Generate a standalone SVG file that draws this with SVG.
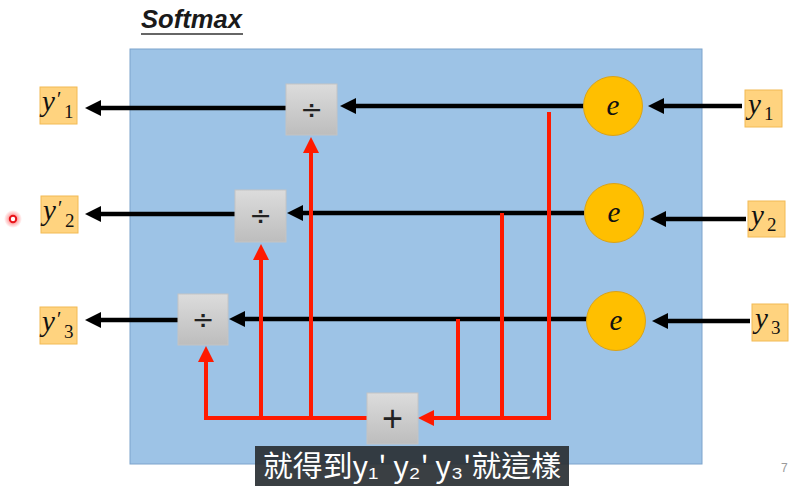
<svg xmlns="http://www.w3.org/2000/svg" width="793" height="498" viewBox="0 0 793 498">
<defs>
<linearGradient id="gbox" x1="0" y1="0" x2="0" y2="1">
<stop offset="0" stop-color="#DCDCDC"/>
<stop offset="1" stop-color="#BDBDBD"/>
</linearGradient>
<radialGradient id="glow">
<stop offset="0.3" stop-color="#FF4040" stop-opacity="0.6"/>
<stop offset="1" stop-color="#FF4040" stop-opacity="0"/>
</radialGradient>
<marker id="ab" markerUnits="userSpaceOnUse" markerWidth="18" markerHeight="16" refX="4" refY="8" orient="auto">
<path d="M0,0 L16,8 L0,16 z" fill="#000"/>
</marker>
<marker id="ar" markerUnits="userSpaceOnUse" markerWidth="18" markerHeight="16" refX="4" refY="8" orient="auto">
<path d="M0,0 L16,8 L0,16 z" fill="#FF1A00"/>
</marker>
</defs>
<style>
.lbl{fill:#FFD37F;stroke:#F2BA55;stroke-width:1}
.box{fill:url(#gbox);stroke:#C4C4C4;stroke-width:1}
.circ{fill:#FFBF00;stroke:#D9A21A;stroke-width:1}
.m{font-family:"Liberation Serif","DejaVu Serif",serif;fill:#111}
.mi{font-style:italic}
.op{font-family:"Liberation Sans","DejaVu Sans",sans-serif;fill:#222;text-anchor:middle}
.dv{font-family:"DejaVu Sans","Liberation Sans",sans-serif;fill:#222;text-anchor:middle}
.bl{fill:none;stroke:#000;stroke-width:4.5;marker-end:url(#ab)}
.rd{fill:none;stroke:#FF1A00;stroke-width:4}
.rda{fill:none;stroke:#FF1A00;stroke-width:4;marker-end:url(#ar)}
</style>
<rect width="793" height="498" fill="#fff"/>
<g id="title">
<text x="141" y="28" font-family="'Liberation Sans',Arial,sans-serif" font-weight="bold" font-style="italic" font-size="25" fill="#1a1a1a" textLength="101" lengthAdjust="spacingAndGlyphs">Softmax</text>
<line x1="141" y1="34" x2="243" y2="34" stroke="#333" stroke-width="1.5"/>
</g>
<g id="softmax-block">
<rect x="130" y="49" width="572" height="415" fill="#9DC3E6" stroke="#7DA3CC" stroke-width="1"/>
</g>
<g id="connectors">
<path class="bl" d="M742,106 H660"/>
<path class="bl" d="M746,219 H662"/>
<path class="bl" d="M750,321 H664"/>
<path class="bl" d="M584,106 H352"/>
<path class="bl" d="M584,213 H299"/>
<path class="bl" d="M587,319 H241"/>
<path class="bl" d="M286,108 H97"/>
<path class="bl" d="M235,214 H97"/>
<path class="bl" d="M178,320 H97"/>
<path class="rda" d="M549,112 V418 H430"/>
<path class="rd" d="M502,213 V418"/>
<path class="rd" d="M458,319 V418"/>
<path class="rda" d="M367,418 H206 V358"/>
<path class="rda" d="M261,418 V256"/>
<path class="rda" d="M311,418 V149"/>
</g>
<g id="exp1"><circle class="circ" cx="613" cy="106" r="29.5"/><text class="m mi" x="613" y="115" font-size="29" text-anchor="middle">e</text></g>
<g id="exp2"><circle class="circ" cx="614" cy="213" r="29.5"/><text class="m mi" x="614" y="222" font-size="29" text-anchor="middle">e</text></g>
<g id="exp3"><circle class="circ" cx="616" cy="321" r="29.5"/><text class="m mi" x="616" y="330" font-size="29" text-anchor="middle">e</text></g>
<g id="div1"><rect class="box" x="286" y="84" width="51" height="51"/><text class="dv" x="311.5" y="119" font-size="27">÷</text></g>
<g id="div2"><rect class="box" x="235" y="190" width="51" height="52"/><text class="dv" x="260.5" y="225" font-size="27">÷</text></g>
<g id="div3"><rect class="box" x="178" y="294" width="50" height="51"/><text class="dv" x="203" y="329" font-size="27">÷</text></g>
<g id="sum"><rect class="box" x="367" y="393" width="51" height="51"/><text class="op" x="392.5" y="431" font-size="36">+</text></g>
<g id="in1"><rect class="lbl" x="745" y="90" width="37" height="37"/><text class="m" font-size="29"><tspan class="mi" x="748" y="114">y</tspan><tspan x="764" y="120" font-size="19">1</tspan></text></g>
<g id="in2"><rect class="lbl" x="748" y="201" width="37" height="36"/><text class="m" font-size="29"><tspan class="mi" x="751" y="225">y</tspan><tspan x="767" y="231" font-size="19">2</tspan></text></g>
<g id="in3"><rect class="lbl" x="752" y="304" width="36" height="37"/><text class="m" font-size="29"><tspan class="mi" x="755" y="328">y</tspan><tspan x="771" y="334" font-size="19">3</tspan></text></g>
<g id="out1"><rect class="lbl" x="40" y="87" width="37" height="37"/><text class="m" font-size="29"><tspan class="mi" x="42" y="111">y</tspan><tspan x="57" y="106" font-size="20">′</tspan><tspan x="64" y="118" font-size="19">1</tspan></text></g>
<g id="out2"><rect class="lbl" x="41" y="196" width="37" height="37"/><text class="m" font-size="29"><tspan class="mi" x="43" y="220">y</tspan><tspan x="58" y="215" font-size="20">′</tspan><tspan x="65" y="227" font-size="19">2</tspan></text></g>
<g id="out3"><rect class="lbl" x="40" y="307" width="37" height="37"/><text class="m" font-size="29"><tspan class="mi" x="42" y="331">y</tspan><tspan x="57" y="326" font-size="20">′</tspan><tspan x="64" y="338" font-size="19">3</tspan></text></g>
<g id="pointer">
<circle cx="13" cy="219" r="9" fill="url(#glow)"/>
<circle cx="13" cy="219" r="3.2" fill="#fff" stroke="#E8151B" stroke-width="2"/>
</g>
<g id="subtitle">
<rect x="255" y="446" width="314" height="40" fill="#2B3035" fill-opacity="0.93"/>
<text x="263" y="477" font-family="'Noto Sans CJK TC','Noto Sans CJK SC',sans-serif" font-size="29" fill="#fff" textLength="298" lengthAdjust="spacingAndGlyphs">就得到y₁' y₂' y₃'就這樣</text>
</g>
<text x="781" y="472" font-family="'Liberation Sans',Arial,sans-serif" font-size="12" fill="#9a9a9a">7</text>
</svg>
